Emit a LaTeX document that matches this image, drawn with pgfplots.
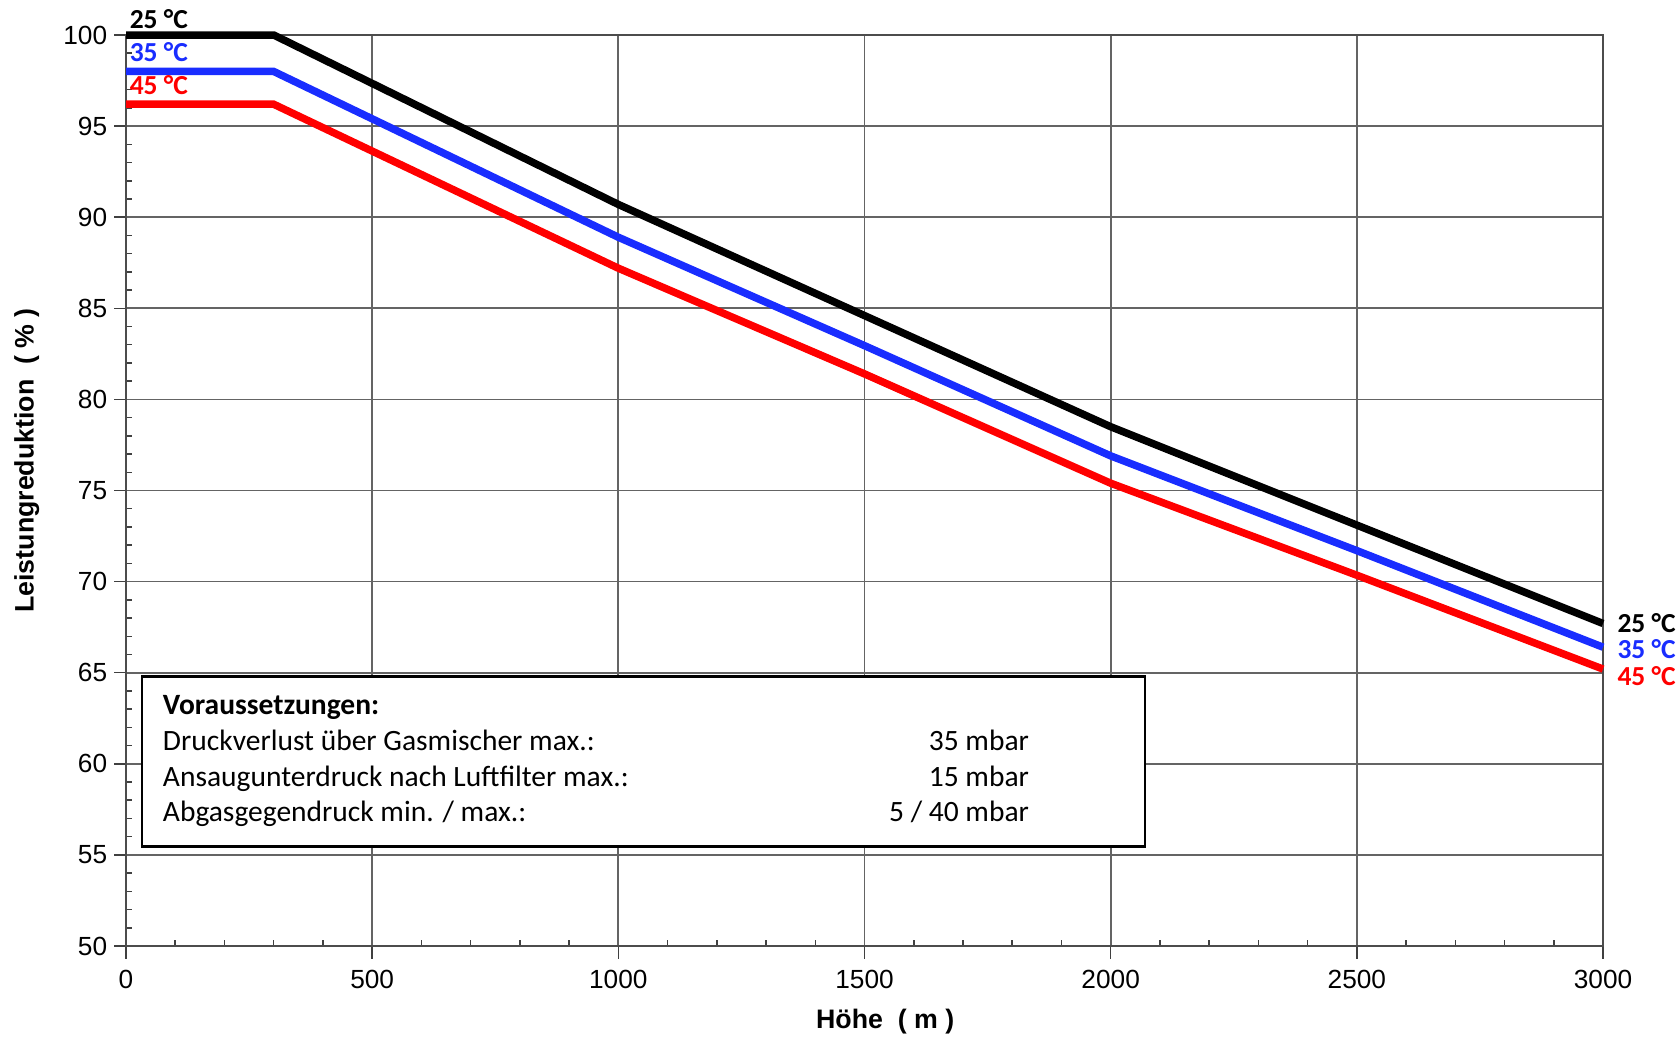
\documentclass[border=0pt]{standalone}
\usepackage{pgfplots}
\pgfplotsset{compat=1.18}
\usepackage{fontspec}
\setmainfont{Liberation Sans}
\newfontfamily\calibri{Carlito}
\definecolor{cblue}{RGB}{25,45,255}
\definecolor{cred}{RGB}{255,0,0}
\definecolor{gridgray}{RGB}{100,100,100}
\tikzset{curve/.style={inner sep=0pt, font=\calibri\bfseries\fontsize{11}{12}\selectfont}}

\begin{document}
\begin{tikzpicture}
\begin{axis}[
  scale only axis, width=590.8pt, height=364.4pt,
  xmin=0, xmax=3000, ymin=50, ymax=100,
  clip=false,
  xtick={0,500,...,3000}, ytick={50,55,...,100},
  xtick pos=bottom, ytick pos=left,
  minor x tick num=4, minor y tick num=4,
  grid=major, major grid style={gridgray, line width=0.7pt},
  axis line style={black!70, line width=0.8pt},
  tick align=inside, major tick length=-5pt, minor tick length=2.4pt,
  tick style={black!75, line width=0.6pt},
  /pgf/number format/assume math mode=true,
  /pgf/number format/set thousands separator={},
  tick label style={font=\fontsize{10.5}{12}\selectfont},
  xticklabel style={yshift=-6pt},
  yticklabel style={xshift=-4pt},
  xlabel={\bfseries Höhe\ \ ( m )},
  ylabel={\bfseries Leistungreduktion\ \ ( \% )},
  label style={font=\fontsize{10.7}{12}\selectfont},
  xlabel style={at={([yshift=-30.4pt]axis description cs:0.514,0)}, anchor=center},
  ylabel style={at={([xshift=-39.7pt]axis description cs:0,0.533)}, anchor=center},
]
% 25 °C
\addplot[black, line width=3pt] coordinates {
  (0,100) (300,100) (1000,90.7) (1500,84.6) (2000,78.5) (2500,73.1) (3000,67.7)}
  node[pos=0, curve, anchor=base west, xshift=0pt, yshift=2.7pt] {25 °C}
  node[pos=1, curve, anchor=base west, xshift=4.3pt, yshift=-3.6pt] {25 °C};
% 35 °C
\addplot[cblue, line width=3pt] coordinates {
  (0,98) (300,98) (1000,88.9) (1500,82.95) (2000,76.9) (2500,71.7) (3000,66.4)}
  node[pos=0, curve, anchor=base west, xshift=0pt, yshift=4pt] {35 °C}
  node[pos=1, curve, anchor=base west, xshift=4.3pt, yshift=-4.4pt] {35 °C};
% 45 °C
\addplot[cred, line width=3pt] coordinates {
  (0,96.2) (300,96.2) (1000,87.2) (1500,81.4) (2000,75.4) (2500,70.35) (3000,65.2)}
  node[pos=0, curve, anchor=base west, xshift=0pt, yshift=4pt] {45 °C}
  node[pos=1, curve, anchor=base west, xshift=4.3pt, yshift=-6.7pt] {45 °C};

% Voraussetzungen box
\draw[black, line width=1pt, fill=white] (axis cs:32.5,64.78) rectangle (axis cs:2069.7,55.45);
\node[anchor=base west, inner sep=0pt, font=\calibri\bfseries\fontsize{11.8}{13}\selectfont]
  at (axis cs:74,62.68) {Voraussetzungen:};
\begin{scope}[every node/.style={inner sep=0pt, font=\calibri\fontsize{11.8}{13}\selectfont}]
\node[anchor=base west] at (axis cs:74,60.74) {Druckverlust über Gasmischer max.:};
\node[anchor=base west] at (axis cs:74,58.74) {Ansaugunterdruck nach Luftfilter max.:};
\node[anchor=base west] at (axis cs:74,56.81) {Abgasgegendruck min. / max.:};
\node[anchor=base east] at (axis cs:1835,60.74) {35 mbar};
\node[anchor=base east] at (axis cs:1835,58.74) {15 mbar};
\node[anchor=base east] at (axis cs:1835,56.81) {5 / 40 mbar};
\end{scope}
\end{axis}
\pgfresetboundingbox
\useasboundingbox ([xshift=-50.4pt,yshift=-36.4pt]current axis.south west)
  rectangle ([xshift=29.2pt,yshift=14pt]current axis.north east);
\end{tikzpicture}
\end{document}
